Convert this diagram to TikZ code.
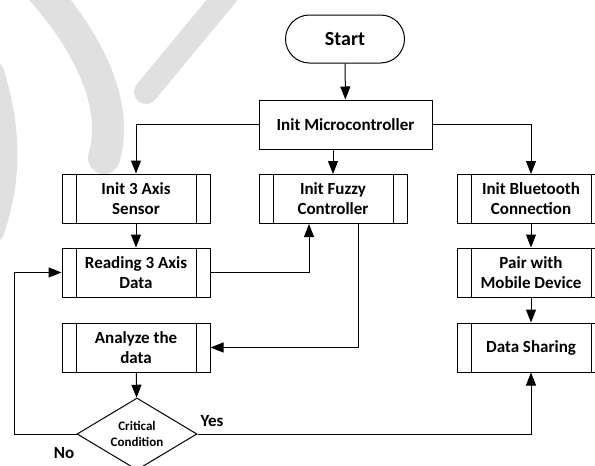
\documentclass[tikz,border=0pt]{standalone}
\usepackage{fontspec}
\setmainfont{Carlito}
\usetikzlibrary{arrows.meta,positioning,calc,shapes.geometric}
\definecolor{wmgray}{HTML}{E0E0E0}

\begin{document}
\begin{tikzpicture}[x=1pt,y=-1pt,
  every node/.style={font=\bfseries\fontsize{17}{20}\selectfont, align=center},
  subproc/.style={draw, line width=1pt, minimum width=148pt, minimum height=49pt, inner sep=0pt,
    path picture={\draw[line width=1pt]
      ([xshift=14pt]path picture bounding box.north west) -- ([xshift=14pt]path picture bounding box.south west)
      ([xshift=-14pt]path picture bounding box.north east) -- ([xshift=-14pt]path picture bounding box.south east);}},
  flow/.style={line width=1pt, -{Triangle[length=13pt,width=10pt]}},
  wm/.style={wmgray, line cap=round}]
  \useasboundingbox (0,0) rectangle (595,466);
  % watermark in the back
  \draw[wm, line width=24pt] (232,-12) -- (146,92);
  \draw[wm, line width=32pt] (40,-12) .. controls (95,50) and (118,110) .. (104,158);
  \draw[wm, line width=20pt] (-6,72) .. controls (12,130) and (12,180) .. (-6,232);
  % left and middle column
  \node[draw, rounded corners=24pt, minimum width=119pt, minimum height=48pt, line width=1pt,
        font=\bfseries\fontsize{20}{22}\selectfont] (start) at (345,39) {Start};
  \node[draw, line width=1pt, minimum width=173pt, minimum height=49pt] (micro) at (345.5,124.5) {Init Microcontroller};
  \node[subproc] (sensor) at (136,198.5) {Init 3 Axis\\Sensor};
  \node[subproc] (fuzzy) at (333,199) {Init Fuzzy\\Controller};
  \node[subproc] (reading) at (136,272.5) {Reading 3 Axis\\Data};
  \node[subproc] (analyze) at (136,347.5) {Analyze the\\data};
  \node[draw, diamond, line width=1pt, shape aspect=1.667, minimum width=120pt, minimum height=72pt, inner sep=0pt,
        font=\bfseries\fontsize{13}{16}\selectfont] (crit) at (137,434) {Critical\\Condition};
  % right column
  \node[subproc] (bt) at (531,199) {Init Bluetooth\\Connection};
  \node[subproc] (pair) at (531,272.5) {Pair with\\Mobile Device};
  \node[subproc] (share) at (531,347.5) {Data Sharing};
  \node (yes) at (212,421) {Yes};
  \node (no) at (64,453) {No};
  \coordinate (noturn) at (14,434);
  \draw[flow] (start) -- (micro);
  \draw[flow] (micro.west) -| (sensor.north);
  \draw[flow] (micro.south -| fuzzy.north) -- (fuzzy.north);
  \draw[flow] (micro.east) -| (bt.north);
  \draw[flow] (sensor) -- (reading);
  \draw[flow] (reading.east) -| ([xshift=-24pt]fuzzy.south);
  \draw[flow] ([xshift=25pt]fuzzy.south) |- (analyze.east);
  \draw[flow] (analyze) -- (crit);
  \draw[flow] (crit.west) -- (noturn) |- (reading.west);
  \draw[flow] (crit.east) -| (share.south);
  \draw[flow] (bt) -- (pair);
  \draw[flow] (pair) -- (share);
\end{tikzpicture}
\end{document}
